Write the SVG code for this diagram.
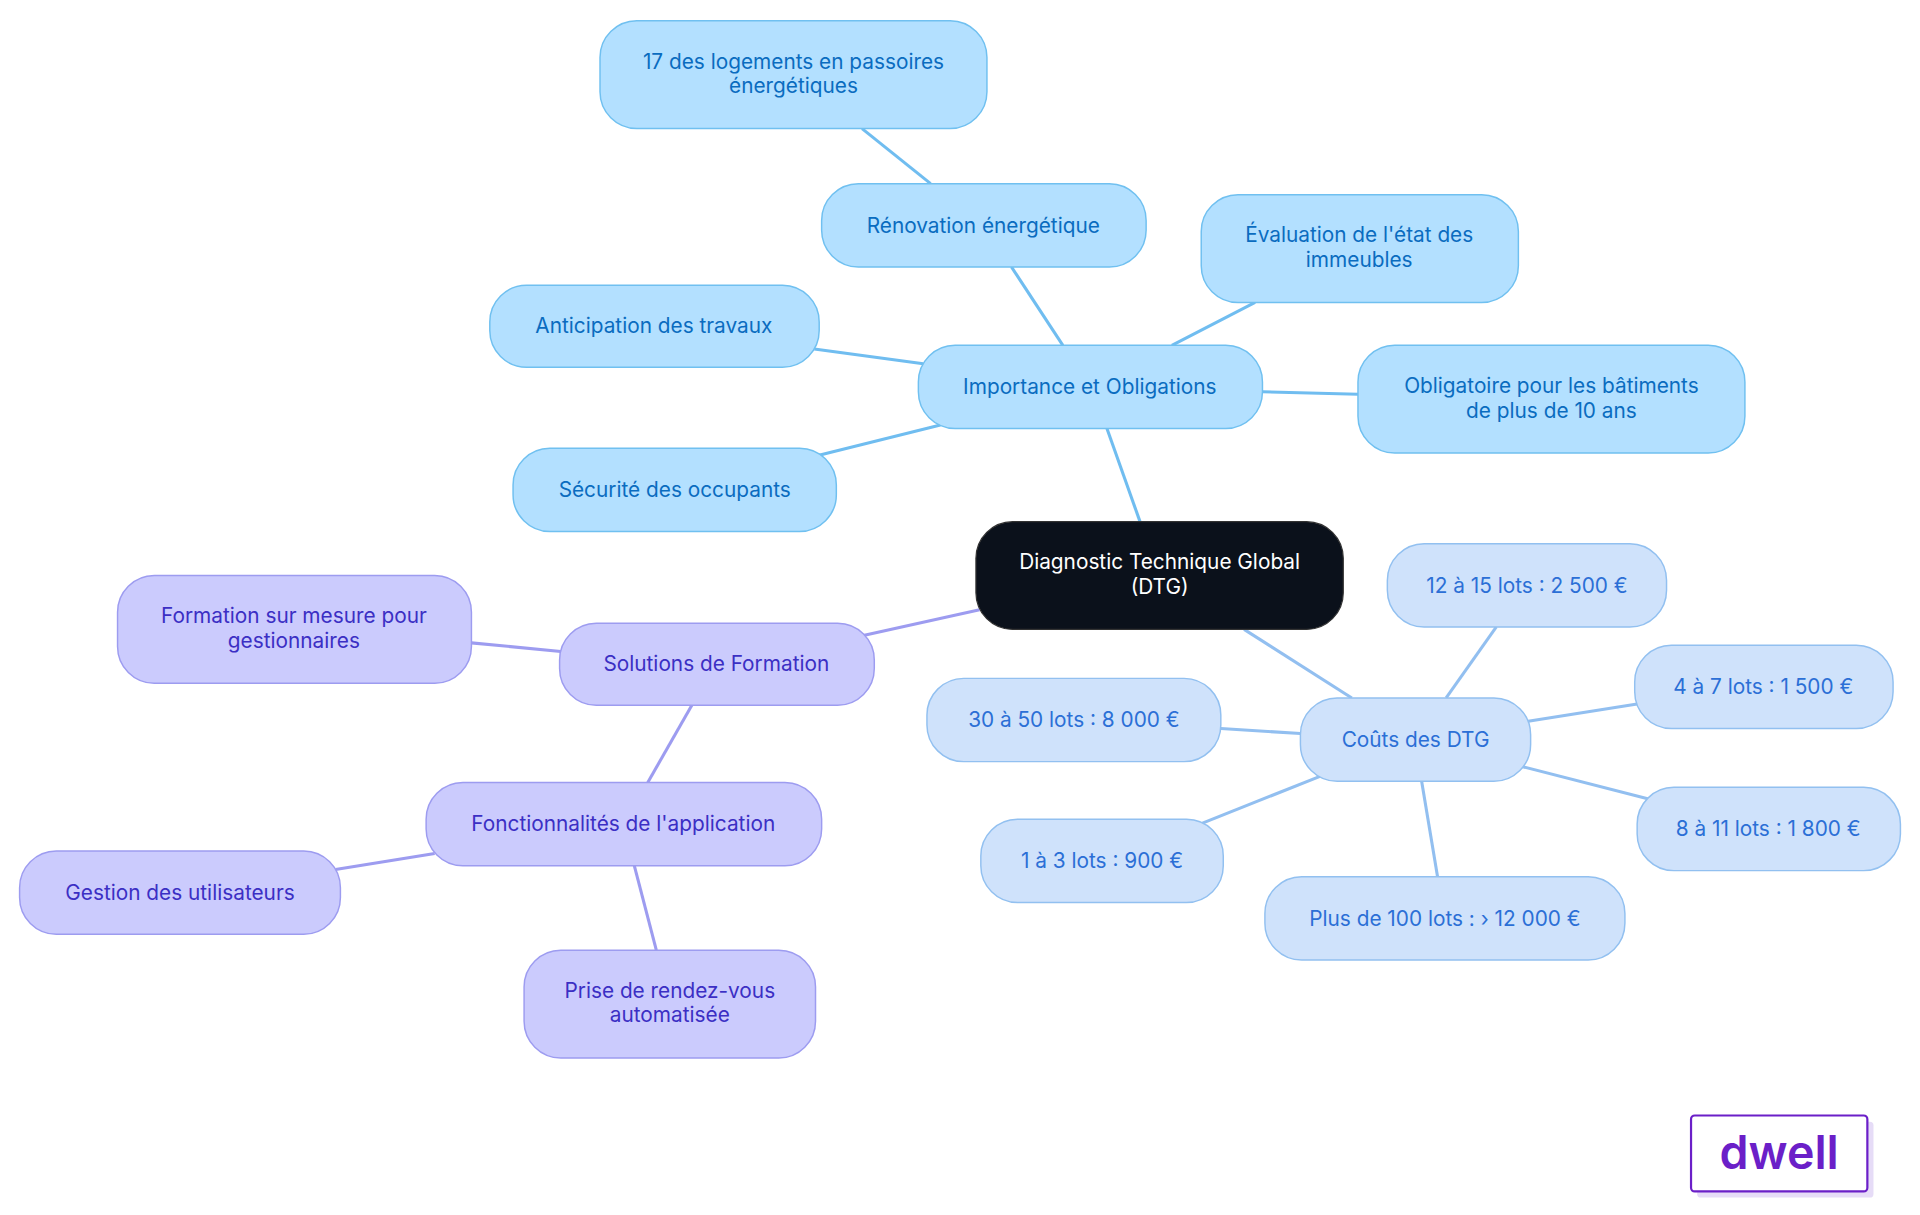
<svg xmlns="http://www.w3.org/2000/svg" width="1920" height="1215" viewBox="0 0 1920 1215">
<style>
text{font-family:"Inter","Liberation Sans",sans-serif;font-size:17px;text-anchor:middle}
.b rect{fill:#b3e0ff;stroke:#70c0f0;stroke-width:1.2}.b text{fill:#0a6cbf}
.c rect{fill:#cfe2fb;stroke:#92c0f0;stroke-width:1.2}.c text{fill:#2b6fd6}
.p rect{fill:#cbcbfd;stroke:#9d9cf0;stroke-width:1.2}.p text{fill:#3b2fc4}
.eb{stroke:#70bdf0;stroke-width:2.5}.ec{stroke:#92bff0;stroke-width:2.5}.ep{stroke:#9d9cf0;stroke-width:2.5}
</style>
<rect width="1920" height="1215" fill="#fff"/>
<g transform="scale(1.2245)">
<g id="connectors" fill="none">
<line class="eb" x1="931" y1="426" x2="904" y2="350"/>
<line class="eb" x1="868" y1="282" x2="826" y2="218"/>
<line class="eb" x1="760" y1="150" x2="704" y2="105"/>
<line class="eb" x1="957" y1="282" x2="1025" y2="247"/>
<line class="eb" x1="754" y1="297" x2="665" y2="285"/>
<line class="eb" x1="1031" y1="320" x2="1109" y2="322"/>
<line class="eb" x1="768" y1="347" x2="668" y2="372"/>
<line class="ep" x1="800" y1="498" x2="705" y2="519"/>
<line class="ep" x1="458" y1="532" x2="385" y2="525"/>
<line class="ep" x1="565" y1="576" x2="529" y2="639"/>
<line class="ep" x1="355" y1="697" x2="274" y2="710"/>
<line class="ep" x1="518" y1="707" x2="536" y2="776"/>
<line class="ec" x1="1016" y1="514" x2="1104" y2="570"/>
<line class="ec" x1="1181" y1="570" x2="1222" y2="512"/>
<line class="ec" x1="1248" y1="589" x2="1337" y2="575"/>
<line class="ec" x1="1062" y1="599" x2="997" y2="595"/>
<line class="ec" x1="1243" y1="626" x2="1348" y2="653"/>
<line class="ec" x1="1078" y1="634" x2="980" y2="673"/>
<line class="ec" x1="1161" y1="638" x2="1174" y2="716"/>
</g>
<g id="center"><rect x="797" y="426" width="300" height="88" rx="30" fill="#0b111b" stroke="#333" stroke-width="1"/><text x="947" y="465" fill="#fff">Diagnostic Technique Global</text><text x="947" y="485" fill="#fff">(DTG)</text></g>
<g id="importance" class="b"><rect x="750" y="282" width="281" height="68" rx="30"/><text x="890" y="322">Importance et Obligations</text></g>
<g id="renovation" class="b"><rect x="671" y="150" width="265" height="68" rx="30"/><text x="803" y="190">Rénovation énergétique</text></g>
<g id="logements" class="b"><rect x="490" y="17" width="316" height="88" rx="30"/><text x="648" y="56">17 des logements en passoires</text><text x="648" y="76">énergétiques</text></g>
<g id="evaluation" class="b"><rect x="981" y="159" width="259" height="88" rx="30"/><text x="1110" y="198">Évaluation de l'état des</text><text x="1110" y="218">immeubles</text></g>
<g id="anticipation" class="b"><rect x="400" y="233" width="269" height="67" rx="30"/><text x="534" y="272">Anticipation des travaux</text></g>
<g id="obligatoire" class="b"><rect x="1109" y="282" width="316" height="88" rx="30"/><text x="1267" y="321">Obligatoire pour les bâtiments</text><text x="1267" y="341">de plus de 10 ans</text></g>
<g id="securite" class="b"><rect x="419" y="366" width="264" height="68" rx="30"/><text x="551" y="406">Sécurité des occupants</text></g>
<g id="solutions" class="p"><rect x="457" y="509" width="257" height="67" rx="30"/><text x="585" y="548">Solutions de Formation</text></g>
<g id="formation" class="p"><rect x="96" y="470" width="289" height="88" rx="30"/><text x="240" y="509">Formation sur mesure pour</text><text x="240" y="529">gestionnaires</text></g>
<g id="fonctionnalites" class="p"><rect x="348" y="639" width="323" height="68" rx="30"/><text x="509" y="679">Fonctionnalités de l'application</text></g>
<g id="gestion" class="p"><rect x="16" y="695" width="262" height="68" rx="30"/><text x="147" y="735">Gestion des utilisateurs</text></g>
<g id="prise" class="p"><rect x="428" y="776" width="238" height="88" rx="30"/><text x="547" y="815">Prise de rendez-vous</text><text x="547" y="835">automatisée</text></g>
<g id="couts" class="c"><rect x="1062" y="570" width="188" height="68" rx="30"/><text x="1156" y="610">Coûts des DTG</text></g>
<g id="c12" class="c"><rect x="1133" y="444" width="228" height="68" rx="30"/><text x="1247" y="484">12 à 15 lots : 2 500 €</text></g>
<g id="c4" class="c"><rect x="1335" y="527" width="211" height="68" rx="30"/><text x="1440" y="567">4 à 7 lots : 1 500 €</text></g>
<g id="c30" class="c"><rect x="757" y="554" width="240" height="68" rx="30"/><text x="877" y="594">30 à 50 lots : 8 000 €</text></g>
<g id="c8" class="c"><rect x="1337" y="643" width="215" height="68" rx="30"/><text x="1444" y="683">8 à 11 lots : 1 800 €</text></g>
<g id="c1" class="c"><rect x="801" y="669" width="198" height="68" rx="30"/><text x="900" y="709">1 à 3 lots : 900 €</text></g>
<g id="c100" class="c"><rect x="1033" y="716" width="294" height="68" rx="30"/><text x="1180" y="756">Plus de 100 lots : › 12 000 €</text></g>
<g id="logo"><rect x="1386" y="916" width="144" height="62" rx="3" fill="#e6dcf7"/><rect x="1381" y="911" width="144" height="62" rx="3" fill="#fff" stroke="#6b1fc8" stroke-width="1.8"/><text x="1453" y="955" style="font-size:38px;font-weight:600;fill:#6b1fc8">dwell</text></g>
</g>
</svg>
